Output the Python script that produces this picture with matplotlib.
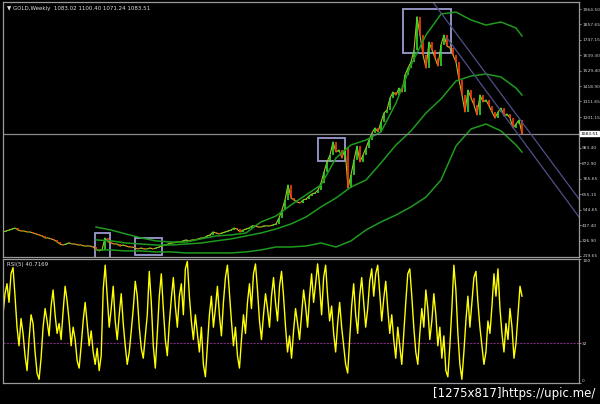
import matplotlib
matplotlib.use('Agg')
import matplotlib.pyplot as plt
import matplotlib.transforms as mtransforms
from matplotlib.patches import Rectangle
import numpy as np

# GOLD weekly closes, one value every ~6 weeks
closes = [389, 396, 403, 410, 417, 403, 396, 396, 389, 389,
          382, 375, 368, 361, 347, 347, 340, 333, 319, 304,
          297, 304, 312, 304, 304, 297, 297, 290, 290, 290,
          283, 269, 255, 262, 347, 319, 312, 304, 304, 290,
          297, 290, 283, 283, 276, 269, 276, 269, 269, 276,
          269, 276, 283, 290, 297, 304, 312, 312, 319, 319,
          326, 333, 326, 333, 333, 340, 347, 347, 361, 368,
          389, 382, 375, 382, 389, 396, 403, 417, 410, 389,
          403, 410, 417, 432, 432, 424, 424, 432, 432, 432,
          439, 446, 488, 545, 615, 721, 629, 615, 601, 594,
          615, 622, 643, 658, 665, 686, 735, 813, 884, 933,
          1025, 954, 968, 912, 982, 700, 792, 898, 996, 884,
          933, 982, 1039, 1089, 1124, 1096, 1166, 1230, 1251, 1336,
          1378, 1357, 1406, 1378, 1498, 1548, 1590, 1675, 1910, 1781,
          1640, 1548, 1731, 1675, 1619, 1562, 1710, 1781, 1703, 1689,
          1640, 1590, 1463, 1357, 1237, 1392, 1336, 1286, 1216, 1357,
          1308, 1322, 1279, 1237, 1194, 1237, 1265, 1209, 1223, 1194,
          1124, 1152, 1180, 1083.51]

# envelope bands (bar index, price)
band_idx = [31, 36, 41, 46, 51, 56, 61, 66, 71, 76, 81, 86, 91, 96, 101,
            106, 111, 116, 121, 126, 131, 136, 141, 146, 151, 156, 161, 166, 171, 173]
band_upper = [424, 403, 375, 347, 326, 318, 318, 340, 361, 368, 382, 460, 502, 580, 651,
              721, 912, 1004, 1039, 1096, 1300, 1569, 1781, 1929, 1943, 1887, 1851, 1873, 1830, 1774]
band_middle = [333, 326, 311, 304, 297, 297, 304, 311, 326, 340, 361, 382, 410, 446, 495,
               566, 629, 707, 756, 877, 1004, 1103, 1230, 1329, 1456, 1491, 1505, 1484, 1406, 1357]
band_lower = [262, 262, 255, 255, 248, 248, 241, 241, 241, 241, 248, 262, 283, 283, 290,
              311, 283, 326, 403, 460, 509, 566, 636, 756, 997, 1117, 1152, 1103, 1004, 954]

# RSI(5), sampled every ~2 px along the chart
rsi = [55, 72, 80, 65, 88, 93, 70, 45, 30, 52,
       40, 22, 10, 35, 55, 48, 25, 8, 3, 20,
       45, 60, 50, 38, 62, 75, 55, 40, 48, 35,
       58, 78, 66, 50, 30, 45, 35, 18, 12, 30,
       50, 65, 48, 30, 42, 25, 15, 28, 10, 22,
       75, 95, 70, 45, 60, 78, 50, 35, 55, 72,
       48, 30, 15, 25, 42, 60, 82, 70, 45, 28,
       20, 38, 55, 90, 65, 30, 12, 40, 70, 88,
       60, 35, 22, 48, 68, 85, 62, 45, 70, 80,
       55, 92, 98, 70, 50, 35, 55, 40, 25, 45,
       15, 5, 30, 55, 70, 45, 60, 78, 55, 38,
       65, 85, 95, 72, 50, 30, 45, 22, 12, 35,
       55, 40, 65, 80, 60, 88, 96, 75, 50, 35,
       55, 72, 60, 45, 70, 85, 65, 50, 78, 90,
       70, 45, 25, 38, 20, 42, 60, 48, 35, 55,
       75, 62, 45, 70, 88, 65, 80, 96, 78, 55,
       85, 95, 70, 50, 62, 40, 25, 48, 65, 45,
       30, 15, 8, 35, 62, 80, 55, 40, 70, 85,
       65, 45, 60, 82, 92, 70, 88, 95, 72, 50,
       68, 82, 60, 40, 55, 35, 20, 45, 30, 15,
       40, 65, 88, 92, 70, 45, 25, 15, 40, 60,
       45, 75, 60, 35, 50, 72, 55, 30, 45, 20,
       38, 10, 5, 30, 60, 95, 75, 40, 15, 3,
       25, 50, 70, 45, 65, 85, 90, 65, 45, 30,
       15, 25, 50, 40, 62, 88, 70, 92, 60, 40,
       25, 48, 35, 60, 45, 20, 32, 55, 78, 70]

price_ticks = [1964.50, 1857.65, 1747.15, 1639.30, 1529.40, 1418.90, 1311.65, 1201.15,
               983.40, 872.90, 765.65, 655.15, 544.65, 437.40, 326.90, 219.65]
last_price = 1083.51
rsi_level = 32

# rectangles drawn on the chart: (bar from, bar to, price low, price high)
boxes = [(30.7, 35.7, 200, 382),
         (44.0, 53.0, 227, 347),
         (105.0, 114.0, 891, 1053),
         (133.3, 149.3, 1654, 1964)]
# equidistant channel: two lines, (bar, price) -> (bar, price)
channel = [((143.3, 2014), (192, 622)),
           ((148.0, 1760), (192, 495))]

grid_col = '#9a9a9a'
up_col = '#2edb2e'
dn_col = '#ff3a10'
lab_size = 3.2

fig = plt.figure(figsize=(6, 4.04), dpi=100, facecolor='black')
ax = fig.add_axes([0.005, 0.364, 0.96, 0.631], facecolor='black')
ax2 = fig.add_axes([0.005, 0.052, 0.96, 0.307], facecolor='black')

# price bars: each bar spans from previous close to close
c = np.array(closes, dtype=float)
o = np.r_[c[0], c[:-1]]
x = np.arange(len(c))
cols = np.where(c >= o, up_col, dn_col)
ax.plot(x, c, color='#b8c020', linewidth=0.8)
ax.vlines(x, np.minimum(o, c), np.maximum(o, c), colors=cols, linewidth=1.2)

for band in (band_upper, band_middle, band_lower):
    ax.plot(band_idx, band, color='#1e9a1e', linewidth=1.1)

ax.axhline(last_price, color='#8a8a8a', linewidth=0.9)

for x0, x1, p0, p1 in boxes:
    ax.add_patch(Rectangle((x0, p0), x1 - x0, p1 - p0, fill=False,
                           edgecolor='#9c9cd0', linewidth=1.3))
for (xa, ya), (xb, yb) in channel:
    ax.plot([xa, xb], [ya, yb], color='#50508a', linewidth=0.9)

ax.set_xlim(0, 192)
ax.set_ylim(212.6, 2013.9)
ax.set_xticks([])
ax.yaxis.tick_right()
ax.set_yticks(price_ticks)
ax.set_yticklabels(['%.2f' % t for t in price_ticks])
ax.tick_params(axis='y', colors=grid_col, labelcolor='#d0d0d0', labelsize=lab_size,
               length=1.5, width=0.6, pad=0.8)
for s in ax.spines.values():
    s.set_color(grid_col)
    s.set_linewidth(0.9)

trans = mtransforms.blended_transform_factory(ax.transAxes, ax.transData)
ax.text(1.002, last_price, '%.2f' % last_price, transform=trans, fontsize=lab_size,
        color='black', va='center', ha='left',
        bbox=dict(boxstyle='square,pad=0.1', facecolor='white', edgecolor='white'))

ax.text(0.007, 0.985, '\u25bc GOLD,Weekly  1083.02 1100.40 1071.24 1083.51',
        transform=ax.transAxes, fontsize=4, color='#e0e0e0', va='top', ha='left')

# RSI pane
rx = np.linspace(0, len(c) - 1, len(rsi))
ax2.axhline(rsi_level, color='#7a2a7a', linewidth=0.8, linestyle=(0, (2, 1)))
ax2.plot(rx, rsi, color='#ffff00', linewidth=1.0)
ax2.set_xlim(0, 192)
ax2.set_ylim(0, 100)
ax2.set_xticks([])
ax2.yaxis.tick_right()
ax2.set_yticks([0, rsi_level, 100])
ax2.set_yticklabels(['0', str(rsi_level), '100'])
labels = ax2.get_yticklabels()
labels[0].set_va('bottom')
labels[2].set_va('top')
ax2.tick_params(axis='y', colors=grid_col, labelcolor='#d0d0d0', labelsize=lab_size,
                length=1.5, width=0.6, pad=0.8)
for s in ax2.spines.values():
    s.set_color(grid_col)
    s.set_linewidth(0.9)
ax2.text(0.007, 0.975, 'RSI(5) 40.7169', transform=ax2.transAxes, fontsize=4,
         color='#e0e0e0', va='top', ha='left')

fig.text(0.992, 0.027, '[1275x817]https://upic.me/', color='white', fontsize=8.5,
         ha='right', va='center')

fig.savefig('out.png', dpi=100, facecolor='black')
